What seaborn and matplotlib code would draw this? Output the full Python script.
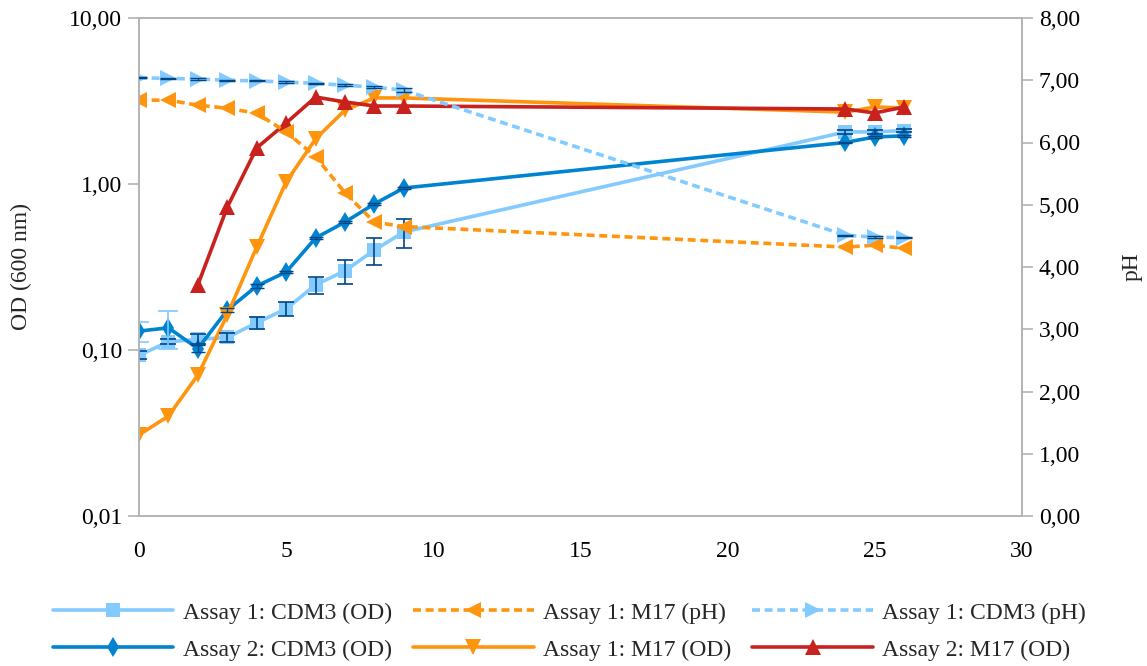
import numpy as np
import pandas as pd
import seaborn as sns
import matplotlib
matplotlib.use("Agg")
import matplotlib.pyplot as plt
from matplotlib.ticker import FixedLocator, FuncFormatter, NullLocator

# ---------------- data ----------------
hours = [0, 1, 2, 3, 4, 5, 6, 7, 8, 9, 24, 25, 26]
hours_a2_m17 = [2, 3, 4, 5, 6, 7, 8, 9, 24, 25, 26]

a1_cdm3_od = [0.093, 0.112, 0.116, 0.119, 0.146, 0.177, 0.247, 0.30, 0.40, 0.514, 2.06, 2.06, 2.10]
a1_cdm3_od_err = [0.005, 0.004, 0.008, 0.007, 0.012, 0.017, 0.03, 0.05, 0.075, 0.10, 0.06, 0.05, 0.05]

a2_cdm3_od = [0.130, 0.136, 0.102, 0.174, 0.243, 0.295, 0.473, 0.59, 0.759, 0.946, 1.78, 1.92, 1.95]
a2_cdm3_od_err = [0.018, 0.035, 0.005, 0.005, 0.006, 0.005, 0.008, 0.01, 0.01, 0.01, 0.02, 0.02, 0.02]

a1_m17_od = [0.0308, 0.040, 0.0707, 0.163, 0.417, 1.03, 1.87, 2.79, 3.30, 3.30, 2.71, 2.91, 2.87]
a2_m17_od = [0.247, 0.726, 1.65, 2.33, 3.34, 3.12, 2.95, 2.95, 2.83, 2.68, 2.91]

a1_m17_ph = [6.68, 6.68, 6.60, 6.55, 6.47, 6.17, 5.77, 5.19, 4.72, 4.65, 4.32, 4.35, 4.30]
a1_cdm3_ph = [7.04, 7.03, 7.02, 7.00, 6.99, 6.97, 6.95, 6.92, 6.89, 6.84, 4.51, 4.48, 4.47]
a1_cdm3_ph_err = [0.01, 0.01, 0.01, 0.01, 0.01, 0.01, 0.01, 0.015, 0.02, 0.03, 0.01, 0.01, 0.01]

labels = ["Assay 1: CDM3 (OD)", "Assay 2: CDM3 (OD)", "Assay 1: M17 (pH)",
          "Assay 1: M17 (OD)", "Assay 1: CDM3 (pH)", "Assay 2: M17 (OD)"]

x_ticks = [0, 5, 10, 15, 20, 25, 30]
od_ticks = [0.01, 0.1, 1, 10]
ph_ticks = [0, 1, 2, 3, 4, 5, 6, 7, 8]

# ---------------- style ----------------
sns.set_theme(style="white")
plt.rcParams["font.family"] = ["Liberation Serif", "DejaVu Serif"]
FS = 17
plt.rcParams["font.size"] = FS

C_LIGHT = "#83CAFF"
C_DARK = "#0084D1"
C_ORANGE = "#FF950E"
C_RED = "#C9211E"
C_ERR = "#004586"
C_AX = "#b3b3b3"

fig = plt.figure(figsize=(11.47, 6.66), dpi=100)
ax = fig.add_axes([139 / 1147, 1 - 516 / 666, (1022 - 139) / 1147, (516 - 18) / 666])
ax2 = ax.twinx()

LW = 2.6
MS = 10
dash = (0, (2.2, 1.3))

# OD series on left (log) axis
sns.lineplot(x=hours, y=a1_cdm3_od, ax=ax, color=C_LIGHT, marker="s", markersize=MS,
             markeredgewidth=0, lw=LW, label=labels[0])
ax.errorbar(hours, a1_cdm3_od, yerr=a1_cdm3_od_err, fmt="none", ecolor=C_ERR,
            elinewidth=1.2, capsize=6, capthick=1.2, zorder=5)

sns.lineplot(x=hours, y=a2_cdm3_od, ax=ax, color=C_DARK, marker="d", markersize=MS,
             markeredgewidth=0, lw=LW, label=labels[1])
ax.errorbar(hours[:2], a2_cdm3_od[:2], yerr=a2_cdm3_od_err[:2], fmt="none", ecolor=C_LIGHT,
            elinewidth=1.2, capsize=7, capthick=1.2, zorder=5)
ax.errorbar(hours[2:], a2_cdm3_od[2:], yerr=a2_cdm3_od_err[2:], fmt="none", ecolor=C_ERR,
            elinewidth=1.0, capsize=5, capthick=1.0, zorder=5)

sns.lineplot(x=hours, y=a1_m17_od, ax=ax, color=C_ORANGE, marker="v", markersize=MS + 1,
             markeredgewidth=0, lw=LW, label=labels[3])
sns.lineplot(x=hours_a2_m17, y=a2_m17_od, ax=ax, color=C_RED, marker="^", markersize=MS + 1,
             markeredgewidth=0, lw=LW, label=labels[5])

# pH series on right axis
sns.lineplot(x=hours, y=a1_m17_ph, ax=ax2, color=C_ORANGE, marker="<", markersize=MS + 1,
             markeredgewidth=0, lw=LW, linestyle=dash, label=labels[2])
sns.lineplot(x=hours, y=a1_cdm3_ph, ax=ax2, color=C_LIGHT, marker=">", markersize=MS + 1,
             markeredgewidth=0, lw=LW, linestyle=dash, label=labels[4])
ax2.errorbar(hours, a1_cdm3_ph, yerr=a1_cdm3_ph_err, fmt="none", ecolor=C_ERR,
             elinewidth=1.0, capsize=6, capthick=1.0, zorder=5)

# axes
ax.set_yscale("log")
ax.set_ylim(0.01, 10)
ax.set_xlim(0, 30)
ax.yaxis.set_major_locator(FixedLocator(od_ticks))
ax.yaxis.set_minor_locator(NullLocator())
ax.yaxis.set_major_formatter(FuncFormatter(lambda v, p: f"{v:.2f}".replace(".", ",")))
ax.xaxis.set_major_locator(FixedLocator(x_ticks))
ax.xaxis.set_major_formatter(FuncFormatter(lambda v, p: f"{int(v)}"))

ax2.set_ylim(0, 8)
ax2.yaxis.set_major_locator(FixedLocator(ph_ticks))
ax2.yaxis.set_major_formatter(FuncFormatter(lambda v, p: f"{v:.2f}".replace(".", ",")))

for a in (ax, ax2):
    for s in a.spines.values():
        s.set_color(C_AX)
        s.set_linewidth(1.2)
    a.tick_params(direction="out", length=8, width=1.2, color=C_AX, labelsize=FS,
                  labelcolor="black", pad=4)
    a.grid(False)
ax.tick_params(axis="x", pad=10)

ax.set_ylabel("OD (600 nm)", fontsize=FS, labelpad=27)
ax2.set_ylabel("pH", fontsize=FS, labelpad=30)

# legend
for a in (ax, ax2):
    lg = a.get_legend()
    if lg:
        lg.remove()
h1, l1 = ax.get_legend_handles_labels()
h2, l2 = ax2.get_legend_handles_labels()
hd = dict(zip(l1 + l2, h1 + h2))
fig.legend([hd[l] for l in labels], labels, loc="center", ncol=3,
           bbox_to_anchor=(0.4965, 0.052), frameon=False, fontsize=FS,
           handlelength=5.1, handletextpad=0.4, columnspacing=0.9, labelspacing=0.65,
           borderpad=0.2)

fig.savefig("out.png", dpi=100)
